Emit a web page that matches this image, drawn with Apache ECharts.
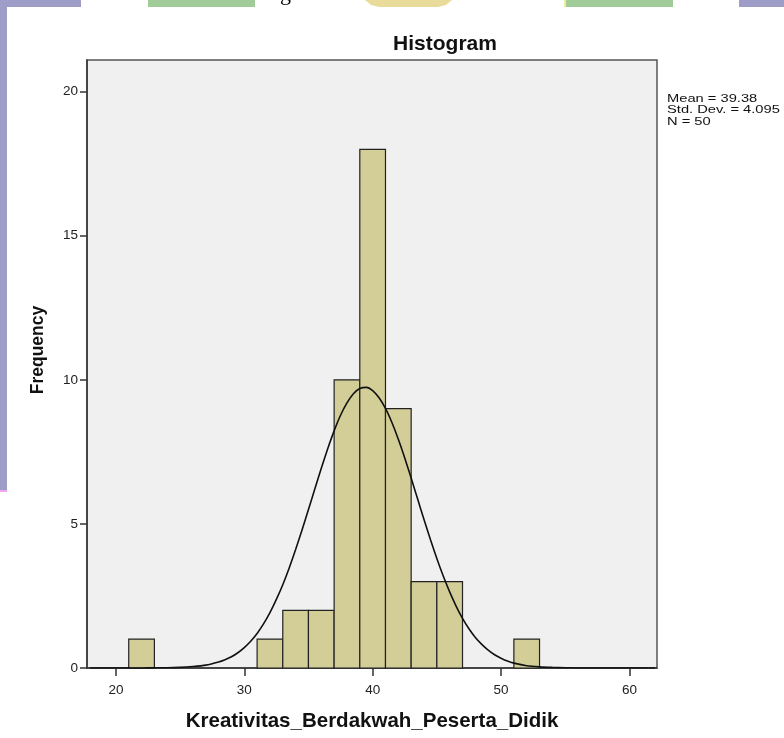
<!DOCTYPE html>
<html>
<head>
<meta charset="utf-8">
<script src="https://cdn.jsdelivr.net/npm/echarts@6/dist/echarts.min.js"></script>
<style>
  html, body { margin: 0; padding: 0; background: #fff; }
  #chart { width: 784px; height: 738px; }
</style>
</head>
<body>
<div id="chart"></div>
<script>
// histogram bins (lower edge, width 2) and frequencies
var binStart = [21, 31, 33, 35, 37, 39, 41, 43, 45, 51]
var binWidth = 2
var counts = [1, 1, 2, 2, 10, 18, 9, 3, 3, 1]

// normal curve
var curveX = [18, 20, 22, 23, 24, 25, 26, 27, 28, 28.5, 29, 29.5, 30, 30.5, 31, 31.5, 32, 32.5, 33, 33.5,
  34, 34.5, 35, 35.5, 36, 36.5, 37, 37.5, 38, 38.5, 39, 39.5, 40, 40.5, 41, 41.5, 42, 42.5, 43, 43.5,
  44, 44.5, 45, 45.5, 46, 46.5, 47, 47.5, 48, 48.5, 49, 49.5, 50, 50.5, 51, 52, 53, 54, 55, 56, 58, 60, 62]
var curveY = [0, 0, 0, 0.01, 0.01, 0.02, 0.05, 0.1, 0.21, 0.29, 0.39, 0.53, 0.71, 0.93, 1.2, 1.53, 1.92, 2.38, 2.89, 3.47,
  4.11, 4.79, 5.5, 6.22, 6.93, 7.61, 8.23, 8.77, 9.2, 9.52, 9.7, 9.74, 9.63, 9.38, 9.01, 8.52, 7.94, 7.29, 6.59, 5.87,
  5.15, 4.46, 3.8, 3.19, 2.64, 2.15, 1.72, 1.36, 1.06, 0.82, 0.62, 0.46, 0.34, 0.24, 0.17, 0.08, 0.04, 0.02, 0.01, 0, 0, 0, 0]

var xTicks = [20, 30, 40, 50, 60]
var yTicks = [0, 5, 10, 15, 20]
var statsText = ['Mean = 39.38', 'Std. Dev. = 4.095', 'N = 50']

var chart = echarts.init(document.getElementById('chart'))

var barData = binStart.map(function (s, i) {
  return [s, s + binWidth, counts[i]]
})
var curveData = curveX.map(function (x, i) {
  return [x, curveY[i]]
})

var font = 'Liberation Sans, Arial, sans-serif'

var option = {
  animation: false,
  title: {
    text: 'Histogram',
    left: 440,
    top: 29,
    textAlign: 'center',
    textStyle: { fontFamily: font, fontSize: 21, fontWeight: 'bold', color: '#111' }
  },
  grid: {
    left: 87,
    right: 127,
    top: 60,
    bottom: 70,
    show: true,
    backgroundColor: '#f0f0f0',
    borderColor: '#555',
    borderWidth: 1.5
  },
  xAxis: {
    type: 'value',
    min: 17.75,
    max: 62.15,
    name: 'Kreativitas_Berdakwah_Peserta_Didik',
    nameLocation: 'middle',
    nameGap: 43,
    nameTextStyle: { fontFamily: font, fontSize: 20.5, fontWeight: 'bold', color: '#111' },
    axisLine: { show: true, lineStyle: { color: '#333', width: 1.5 } },
    axisTick: { show: true, customValues: xTicks, length: 8, lineStyle: { color: '#333', width: 1.5 } },
    axisLabel: { customValues: xTicks, margin: 15, fontFamily: font, fontSize: 13.5, color: '#222' },
    splitLine: { show: false }
  },
  yAxis: {
    type: 'value',
    min: 0,
    max: 21.1,
    axisLine: { show: true, lineStyle: { color: '#333', width: 1.5 } },
    axisTick: { show: true, customValues: yTicks, length: 7, lineStyle: { color: '#333', width: 1.5 } },
    axisLabel: { customValues: yTicks, margin: 9, fontFamily: font, fontSize: 13.5, color: '#222' },
    splitLine: { show: false }
  },
  graphic: [
    // bits of the page behind the chart
    { type: 'rect', shape: { x: 0, y: 0, width: 81, height: 7 }, style: { fill: '#9d9dc8' } },
    { type: 'rect', shape: { x: 0, y: 0, width: 7, height: 490 }, style: { fill: '#9d9dc8' } },
    { type: 'rect', shape: { x: 0, y: 490, width: 7, height: 2 }, style: { fill: '#f2a6f0' } },
    { type: 'rect', shape: { x: 148, y: 0, width: 107, height: 7 }, style: { fill: '#a1cb98' } },
    { type: 'text', x: 280, y: -17, style: { text: 'g', font: '22px Liberation Serif', fill: '#000' } },
    { type: 'polygon', shape: { points: [[365, 0], [452, 0], [446, 5], [438, 7], [379, 7], [371, 5]] }, style: { fill: '#e9dc9b' } },
    { type: 'rect', shape: { x: 564, y: 0, width: 2, height: 7 }, style: { fill: '#eeee9a' } },
    { type: 'rect', shape: { x: 566, y: 0, width: 107, height: 7 }, style: { fill: '#a1cb98' } },
    { type: 'rect', shape: { x: 739, y: 0, width: 45, height: 7 }, style: { fill: '#9d9dc8' } },
    // y axis title
    {
      type: 'text',
      x: 38,
      y: 350,
      rotation: Math.PI / 2,
      style: {
        text: 'Frequency',
        font: 'bold 17.5px Liberation Sans',
        fill: '#111',
        align: 'center',
        verticalAlign: 'middle'
      }
    },
    // stats box
    {
      type: 'text',
      x: 667,
      y: 93,
      scaleX: 1.3,
      style: {
        text: statsText.join('\n'),
        font: '11.3px Liberation Sans',
        lineHeight: 11.5,
        fill: '#111'
      }
    }
  ],
  series: [
    {
      type: 'custom',
      data: barData,
      encode: { x: [0, 1], y: 2 },
      renderItem: function (params, api) {
        var p0 = api.coord([api.value(0), api.value(2)])
        var p1 = api.coord([api.value(1), 0])
        return {
          type: 'rect',
          shape: { x: p0[0], y: p0[1], width: p1[0] - p0[0], height: p1[1] - p0[1] },
          style: { fill: '#d3ce97', stroke: '#222', lineWidth: 1.2 }
        }
      },
      z: 2
    },
    {
      type: 'line',
      data: curveData,
      smooth: 0.2,
      showSymbol: false,
      lineStyle: { color: '#111', width: 1.6 },
      z: 3
    }
  ]
}

chart.setOption(option)
</script>
</body>
</html>
